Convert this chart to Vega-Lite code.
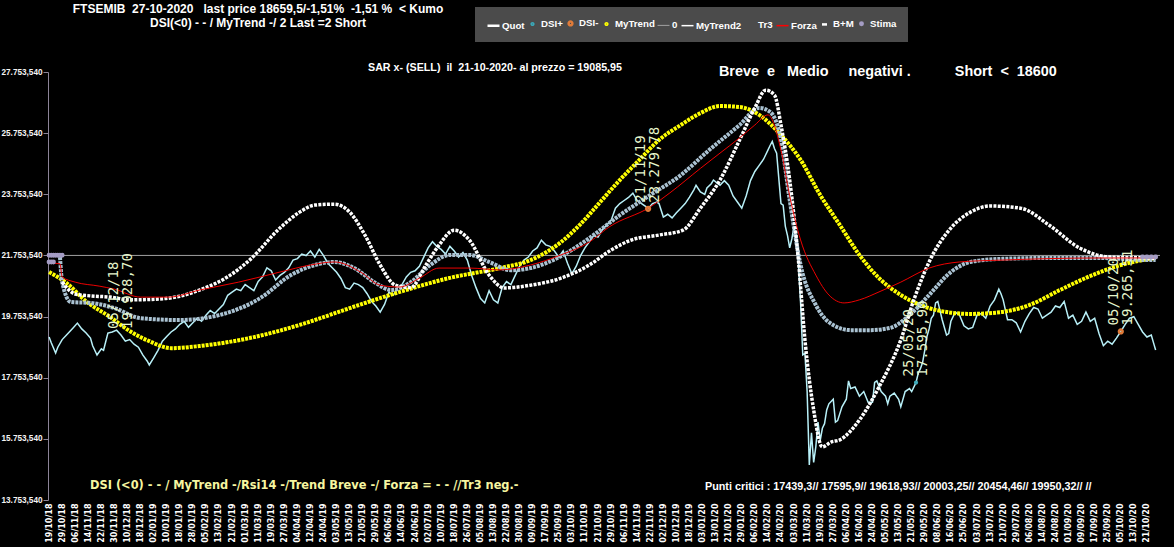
{
  "$schema": "https://vega.github.io/schema/vega-lite/v6.json",
  "width": 1112,
  "height": 428,
  "autosize": "none",
  "padding": {"left": 48, "top": 72, "right": 14, "bottom": 47},
  "background": "#000000",
  "config": {"view": {"stroke": null, "fill": "#000000"}},
  "datasets": {
    "quot": [{"i":0,"v":19085},{"i":1,"v":18900},{"i":3,"v":18560},{"i":4,"v":18750},{"i":6,"v":19000},{"i":8,"v":19150},{"i":11,"v":19380},{"i":13,"v":19540},{"i":15,"v":19350},{"i":17,"v":19215},{"i":19,"v":19050},{"i":20,"v":18800},{"i":22,"v":18495},{"i":24,"v":18700},{"i":25,"v":18650},{"i":27,"v":19215},{"i":29,"v":19250},{"i":31,"v":19310},{"i":33,"v":19150},{"i":35,"v":18950},{"i":37,"v":19000},{"i":39,"v":18850},{"i":41,"v":18750},{"i":43,"v":18500},{"i":45,"v":18300},{"i":46,"v":18170},{"i":48,"v":18400},{"i":50,"v":18650},{"i":52,"v":18950},{"i":54,"v":19100},{"i":56,"v":19250},{"i":58,"v":19350},{"i":60,"v":19500},{"i":62,"v":19600},{"i":64,"v":19400},{"i":66,"v":19550},{"i":68,"v":19700},{"i":70,"v":19600},{"i":72,"v":19800},{"i":74,"v":19950},{"i":76,"v":19850},{"i":78,"v":20000},{"i":80,"v":20150},{"i":82,"v":20450},{"i":84,"v":20550},{"i":86,"v":20650},{"i":88,"v":20600},{"i":90,"v":20800},{"i":92,"v":20700},{"i":94,"v":20600},{"i":96,"v":20900},{"i":98,"v":21050},{"i":100,"v":21350},{"i":102,"v":21250},{"i":104,"v":20950},{"i":106,"v":21100},{"i":108,"v":21200},{"i":110,"v":21350},{"i":112,"v":21600},{"i":114,"v":21650},{"i":116,"v":21800},{"i":118,"v":21750},{"i":120,"v":21900},{"i":122,"v":21700},{"i":124,"v":21950},{"i":126,"v":21750},{"i":128,"v":21500},{"i":130,"v":21350},{"i":132,"v":21200},{"i":134,"v":21000},{"i":136,"v":20700},{"i":138,"v":20650},{"i":140,"v":20850},{"i":142,"v":20800},{"i":144,"v":20700},{"i":146,"v":20500},{"i":148,"v":20250},{"i":150,"v":20100},{"i":152,"v":19900},{"i":154,"v":20150},{"i":156,"v":20550},{"i":158,"v":20450},{"i":160,"v":20700},{"i":162,"v":20800},{"i":164,"v":21050},{"i":166,"v":21200},{"i":168,"v":21250},{"i":170,"v":21400},{"i":172,"v":21700},{"i":174,"v":22000},{"i":176,"v":22200},{"i":178,"v":22050},{"i":180,"v":21950},{"i":182,"v":21800},{"i":184,"v":22050},{"i":186,"v":21900},{"i":188,"v":21700},{"i":190,"v":21850},{"i":192,"v":21600},{"i":194,"v":21100},{"i":196,"v":20700},{"i":198,"v":20350},{"i":200,"v":20200},{"i":202,"v":20600},{"i":204,"v":20300},{"i":206,"v":20200},{"i":208,"v":20700},{"i":210,"v":20900},{"i":212,"v":20800},{"i":214,"v":21100},{"i":216,"v":21400},{"i":218,"v":21600},{"i":220,"v":21700},{"i":222,"v":21900},{"i":224,"v":22000},{"i":226,"v":22250},{"i":228,"v":22100},{"i":230,"v":22050},{"i":232,"v":21900},{"i":234,"v":21700},{"i":236,"v":21900},{"i":238,"v":21500},{"i":240,"v":21150},{"i":242,"v":21400},{"i":244,"v":21750},{"i":246,"v":22000},{"i":248,"v":22200},{"i":250,"v":22400},{"i":252,"v":22350},{"i":254,"v":22600},{"i":256,"v":22750},{"i":258,"v":22900},{"i":260,"v":23300},{"i":262,"v":23450},{"i":264,"v":23550},{"i":266,"v":23650},{"i":268,"v":23790},{"i":270,"v":23550},{"i":272,"v":23450},{"i":274,"v":23350},{"i":275,"v":23280},{"i":277,"v":23450},{"i":279,"v":23500},{"i":280,"v":23450},{"i":282,"v":23010},{"i":284,"v":23100},{"i":286,"v":22980},{"i":288,"v":23150},{"i":290,"v":23300},{"i":292,"v":23450},{"i":294,"v":23660},{"i":296,"v":23900},{"i":297,"v":24050},{"i":299,"v":23830},{"i":301,"v":23750},{"i":302,"v":23960},{"i":304,"v":24100},{"i":305,"v":24220},{"i":307,"v":24100},{"i":308,"v":24050},{"i":310,"v":24200},{"i":312,"v":24050},{"i":314,"v":23700},{"i":316,"v":23500},{"i":318,"v":23300},{"i":320,"v":23700},{"i":322,"v":24200},{"i":324,"v":24500},{"i":326,"v":24700},{"i":328,"v":24900},{"i":330,"v":25200},{"i":331,"v":25350},{"i":332,"v":25480},{"i":333,"v":25250},{"i":334,"v":25100},{"i":336,"v":23450},{"i":337,"v":23400},{"i":338,"v":22700},{"i":339,"v":22400},{"i":340,"v":22000},{"i":341,"v":22300},{"i":342,"v":22700},{"i":343,"v":22150},{"i":344,"v":21500},{"i":345,"v":20200},{"i":346,"v":18500},{"i":347,"v":18550},{"i":348,"v":17300},{"i":349,"v":14900},{"i":350,"v":15950},{"i":351,"v":14980},{"i":352,"v":15500},{"i":353,"v":16300},{"i":354,"v":15700},{"i":355,"v":16100},{"i":356,"v":16250},{"i":357,"v":16700},{"i":358,"v":16900},{"i":360,"v":17050},{"i":361,"v":16300},{"i":362,"v":16350},{"i":364,"v":16800},{"i":366,"v":17050},{"i":367,"v":17650},{"i":368,"v":17400},{"i":370,"v":17450},{"i":372,"v":17150},{"i":374,"v":17300},{"i":376,"v":16950},{"i":378,"v":16950},{"i":379,"v":17600},{"i":380,"v":17650},{"i":382,"v":17300},{"i":384,"v":17150},{"i":385,"v":16900},{"i":386,"v":17150},{"i":388,"v":17250},{"i":390,"v":17050},{"i":391,"v":16800},{"i":393,"v":17300},{"i":395,"v":17400},{"i":396,"v":17300},{"i":398,"v":17596},{"i":399,"v":17900},{"i":400,"v":18050},{"i":401,"v":18250},{"i":402,"v":18650},{"i":403,"v":19100},{"i":404,"v":19350},{"i":405,"v":19700},{"i":406,"v":19800},{"i":407,"v":20200},{"i":408,"v":20250},{"i":410,"v":19650},{"i":412,"v":19150},{"i":413,"v":19200},{"i":414,"v":19600},{"i":416,"v":19900},{"i":418,"v":19800},{"i":420,"v":19450},{"i":422,"v":19350},{"i":424,"v":19400},{"i":426,"v":19800},{"i":428,"v":19850},{"i":430,"v":19700},{"i":432,"v":20100},{"i":434,"v":20300},{"i":436,"v":20650},{"i":437,"v":20500},{"i":438,"v":20300},{"i":440,"v":19650},{"i":442,"v":19650},{"i":444,"v":19550},{"i":446,"v":19250},{"i":448,"v":19600},{"i":450,"v":19850},{"i":452,"v":20050},{"i":454,"v":20000},{"i":456,"v":19700},{"i":458,"v":19800},{"i":460,"v":19900},{"i":462,"v":20100},{"i":464,"v":20050},{"i":466,"v":20250},{"i":468,"v":19700},{"i":470,"v":19800},{"i":472,"v":19500},{"i":474,"v":19600},{"i":476,"v":19900},{"i":478,"v":19600},{"i":480,"v":19700},{"i":482,"v":19200},{"i":484,"v":18800},{"i":486,"v":18950},{"i":488,"v":18850},{"i":490,"v":19050},{"i":492,"v":19266},{"i":494,"v":19500},{"i":496,"v":19700},{"i":498,"v":19750},{"i":500,"v":19500},{"i":502,"v":19250},{"i":504,"v":19085},{"i":506,"v":19150},{"i":507,"v":18900},{"i":508,"v":18660}],
    "mytrend": [{"i":0,"v":21210},{"i":8,"v":20850},{"i":17,"v":20250},{"i":28,"v":19740},{"i":37,"v":19280},{"i":46,"v":18950},{"i":56,"v":18720},{"i":69,"v":18790},{"i":92,"v":19050},{"i":115,"v":19480},{"i":138,"v":20030},{"i":161,"v":20560},{"i":184,"v":21020},{"i":207,"v":21340},{"i":221,"v":21600},{"i":235,"v":22190},{"i":244,"v":22780},{"i":253,"v":23500},{"i":262,"v":24220},{"i":271,"v":24880},{"i":280,"v":25530},{"i":290,"v":26020},{"i":299,"v":26410},{"i":308,"v":26640},{"i":317,"v":26610},{"i":326,"v":26350},{"i":336,"v":25690},{"i":345,"v":24880},{"i":354,"v":23730},{"i":363,"v":22750},{"i":372,"v":21770},{"i":381,"v":21010},{"i":391,"v":20460},{"i":400,"v":20130},{"i":409,"v":19940},{"i":423,"v":19840},{"i":437,"v":19900},{"i":450,"v":20130},{"i":464,"v":20620},{"i":478,"v":21080},{"i":492,"v":21440},{"i":508,"v":21670}],
    "mytrend2": [{"i":6,"v":20880},{"i":12,"v":20490},{"i":19,"v":20430},{"i":28,"v":20390},{"i":37,"v":20300},{"i":51,"v":20330},{"i":60,"v":20420},{"i":69,"v":20620},{"i":83,"v":21100},{"i":92,"v":21600},{"i":106,"v":22650},{"i":115,"v":23170},{"i":122,"v":23400},{"i":131,"v":23430},{"i":138,"v":23170},{"i":145,"v":22420},{"i":152,"v":21440},{"i":159,"v":20780},{"i":166,"v":20700},{"i":173,"v":21440},{"i":179,"v":22090},{"i":186,"v":22580},{"i":193,"v":22250},{"i":202,"v":21110},{"i":209,"v":20690},{"i":221,"v":20780},{"i":235,"v":21010},{"i":248,"v":21440},{"i":258,"v":21930},{"i":267,"v":22250},{"i":280,"v":22420},{"i":291,"v":22580},{"i":299,"v":23300},{"i":308,"v":24220},{"i":317,"v":25530},{"i":324,"v":26580},{"i":329,"v":27160},{"i":333,"v":27000},{"i":336,"v":26020},{"i":340,"v":24220},{"i":344,"v":21600},{"i":347,"v":18990},{"i":351,"v":16700},{"i":355,"v":15490},{"i":359,"v":15650},{"i":363,"v":15720},{"i":372,"v":16370},{"i":381,"v":17450},{"i":391,"v":18990},{"i":397,"v":20300},{"i":404,"v":21540},{"i":414,"v":22650},{"i":423,"v":23170},{"i":432,"v":23370},{"i":446,"v":23300},{"i":459,"v":22750},{"i":473,"v":22000},{"i":487,"v":21700},{"i":505,"v":21670},{"i":508,"v":21660}],
    "bm": [{"i":5,"v":21700},{"i":6,"v":20880},{"i":10,"v":20230},{"i":19,"v":20200},{"i":23,"v":20160},{"i":30,"v":20030},{"i":42,"v":19700},{"i":60,"v":19640},{"i":78,"v":19800},{"i":97,"v":20360},{"i":111,"v":21110},{"i":122,"v":21440},{"i":131,"v":21540},{"i":140,"v":21340},{"i":150,"v":20850},{"i":157,"v":20620},{"i":166,"v":20880},{"i":175,"v":21440},{"i":184,"v":21770},{"i":193,"v":21770},{"i":202,"v":21540},{"i":212,"v":21270},{"i":221,"v":21340},{"i":235,"v":21730},{"i":248,"v":22320},{"i":262,"v":23070},{"i":276,"v":23730},{"i":290,"v":24380},{"i":303,"v":25200},{"i":317,"v":26020},{"i":326,"v":26580},{"i":331,"v":26450},{"i":336,"v":25530},{"i":340,"v":23570},{"i":345,"v":21440},{"i":352,"v":20130},{"i":358,"v":19570},{"i":368,"v":19310},{"i":377,"v":19310},{"i":386,"v":19380},{"i":395,"v":19800},{"i":404,"v":20460},{"i":414,"v":21210},{"i":423,"v":21540},{"i":437,"v":21640},{"i":459,"v":21670},{"i":482,"v":21670},{"i":505,"v":21600},{"i":508,"v":21600}],
    "forza": [{"i":0,"v":21510},{"i":5,"v":21480},{"i":6,"v":21050},{"i":12,"v":20880},{"i":23,"v":20750},{"i":30,"v":20650},{"i":42,"v":20390},{"i":55,"v":20390},{"i":69,"v":20620},{"i":87,"v":20880},{"i":106,"v":21210},{"i":120,"v":21440},{"i":131,"v":21540},{"i":143,"v":21210},{"i":152,"v":20780},{"i":161,"v":20720},{"i":170,"v":21010},{"i":179,"v":21340},{"i":193,"v":21340},{"i":207,"v":21280},{"i":221,"v":21440},{"i":235,"v":21770},{"i":248,"v":22190},{"i":257,"v":22680},{"i":276,"v":23340},{"i":285,"v":23800},{"i":299,"v":24600},{"i":308,"v":25100},{"i":317,"v":25600},{"i":324,"v":26020},{"i":330,"v":26350},{"i":336,"v":25200},{"i":340,"v":23700},{"i":345,"v":22260},{"i":352,"v":21110},{"i":358,"v":20460},{"i":365,"v":20200},{"i":372,"v":20300},{"i":381,"v":20560},{"i":391,"v":20880},{"i":404,"v":21340},{"i":418,"v":21540},{"i":437,"v":21600},{"i":482,"v":21670},{"i":508,"v":21670}],
    "marks": [{"i":275,"v":23280,"s":"DSI-"},{"i":492,"v":19266,"s":"DSI-"},{"i":398,"v":17596,"s":"DSI+"},{"i":0,"v":21760,"s":"Stima"},{"i":1,"v":21760,"s":"Stima"},{"i":2,"v":21760,"s":"Stima"},{"i":3,"v":21760,"s":"Stima"},{"i":4,"v":21760,"s":"Stima"},{"i":5,"v":21760,"s":"Stima"},{"i":6,"v":21760,"s":"Stima"},{"i":0,"v":21540,"s":"Stima"},{"i":1,"v":21540,"s":"Stima"},{"i":2,"v":21540,"s":"Stima"},{"i":502,"v":21700,"s":"Stima"},{"i":504,"v":21700,"s":"Stima"},{"i":506,"v":21700,"s":"Stima"},{"i":508,"v":21700,"s":"Stima"}],
    "notes": [{"i":33,"v":19150,"d":"05/12/18","p":"19.928,70"},{"i":275,"v":23280,"d":"21/11/19","p":"23.279,78"},{"i":398,"v":17596,"d":"25/05/20","p":"17.595,90"},{"i":492,"v":19266,"d":"05/10/20","p":"19.265,51"}]
  },
  "layer": [
    {
      "data": {"values": [{"v": 21753.54}]},
      "mark": {"type": "rule", "color": "#a0a0a0", "strokeWidth": 1},
      "encoding": {"y": {"field": "v", "type": "quantitative", "title": null}}
    },
    {
      "data": {"name": "quot"},
      "mark": {"type": "line", "color": "#b8f0f8", "strokeWidth": 1.5},
      "encoding": {
        "x": {"field": "i", "type": "quantitative", "title": null,
          "scale": {"domain": [-0.5, 510], "nice": false, "zero": false},
          "axis": {
            "values": [0,6,12,18,24,30,36,42,48,54,60,66,72,78,84,90,96,102,108,114,120,126,132,138,144,150,156,162,168,174,180,186,192,198,204,210,216,222,228,234,240,246,252,258,264,270,276,282,288,294,300,306,312,318,324,330,336,342,348,354,360,366,372,378,384,390,396,402,408,414,420,426,432,438,444,450,456,462,468,474,480,486,492,498,504],
            "tickCount": 200,
            "labelExpr": "['19/10/18','29/10/18','06/11/18','14/11/18','22/11/18','30/11/18','10/12/18','18/12/18','02/01/19','10/01/19','18/01/19','28/01/19','05/02/19','13/02/19','21/02/19','01/03/19','11/03/19','19/03/19','27/03/19','04/04/19','12/04/19','24/04/19','03/05/19','13/05/19','21/05/19','29/05/19','06/06/19','14/06/19','24/06/19','02/07/19','10/07/19','18/07/19','26/07/19','05/08/19','13/08/19','22/08/19','30/08/19','09/09/19','17/09/19','25/09/19','03/10/19','11/10/19','21/10/19','29/10/19','06/11/19','14/11/19','22/11/19','02/12/19','10/12/19','18/12/19','03/01/20','13/01/20','21/01/20','29/01/20','06/02/20','14/02/20','24/02/20','03/03/20','11/03/20','19/03/20','27/03/20','06/04/20','16/04/20','24/04/20','05/05/20','13/05/20','21/05/20','29/05/20','08/06/20','16/06/20','25/06/20','03/07/20','13/07/20','21/07/20','29/07/20','06/08/20','14/08/20','24/08/20','01/09/20','09/09/20','17/09/20','25/09/20','05/10/20','13/10/20','21/10/20'][round(datum.value/6)]",
            "labelAngle": -90, "labelAlign": "right", "labelBaseline": "middle",
            "labelFont": "DejaVu Sans", "labelFontWeight": "bold", "labelFontSize": 8, "labelColor": "#ffffff",
            "ticks": false, "tickSize": 0, "domain": false, "grid": false, "labelPadding": 3,
            "labelOverlap": false, "labelFlush": false, "labelBound": false, "title": null
          }
        },
        "y": {"field": "v", "type": "quantitative", "title": null,
          "scale": {"domain": [13753.54, 27753.54], "nice": false, "zero": false},
          "axis": {
            "values": [13753.54, 15753.54, 17753.54, 19753.54, 21753.54, 23753.54, 25753.54, 27753.54],
            "tickCount": 20,
            "labelExpr": "replace(replace(replace(format(datum.value, ',.3f'), ',', ';'), '.', ','), ';', '.')",
            "labelFont": "Liberation Sans", "labelFontWeight": "bold", "labelFontSize": 8.2, "labelColor": "#f4f4f4",
            "tickColor": "#8c8498", "tickSize": 5, "domainColor": "#8c8498", "labelPadding": 1,
            "grid": false, "title": null, "labelFlush": false, "labelOverlap": false
          }
        }
      }
    },
    {
      "data": {"name": "mytrend"},
      "mark": {"type": "line", "color": "#ffff00", "strokeWidth": 4, "strokeDash": [3, 1], "interpolate": "monotone"},
      "encoding": {"x": {"field": "i", "type": "quantitative", "title": null}, "y": {"field": "v", "type": "quantitative", "title": null}}
    },
    {
      "data": {"name": "bm"},
      "mark": {"type": "line", "color": "#aac2d2", "strokeWidth": 4, "strokeDash": [3, 1], "interpolate": "monotone"},
      "encoding": {"x": {"field": "i", "type": "quantitative", "title": null}, "y": {"field": "v", "type": "quantitative", "title": null}}
    },
    {
      "data": {"name": "mytrend2"},
      "mark": {"type": "line", "color": "#ffffff", "strokeWidth": 3.5, "strokeDash": [3, 1.3], "interpolate": "monotone"},
      "encoding": {"x": {"field": "i", "type": "quantitative", "title": null}, "y": {"field": "v", "type": "quantitative", "title": null}}
    },
    {
      "data": {"name": "forza"},
      "mark": {"type": "line", "color": "#ee0000", "strokeWidth": 1, "interpolate": "monotone"},
      "encoding": {"x": {"field": "i", "type": "quantitative", "title": null}, "y": {"field": "v", "type": "quantitative", "title": null}}
    },
    {
      "data": {"name": "marks"},
      "mark": {"type": "point", "filled": false, "opacity": 1},
      "encoding": {
        "x": {"field": "i", "type": "quantitative", "title": null},
        "y": {"field": "v", "type": "quantitative", "title": null},
        "color": {"field": "s", "type": "nominal",
          "scale": {
            "domain": ["Quot", "DSI+", "DSI-", "MyTrend", "0", "MyTrend2", "Tr3", "Forza", "B+M", "Stima"],
            "range": ["#ffffff", "#3aa8b8", "#e07b39", "#ffff00", "#a0a0a0", "#ffffff", "#4b4b4b", "#ff0000", "#ffffff", "#a49cc4"]
          },
          "legend": {
            "orient": "none", "legendX": 427, "legendY": -65, "direction": "horizontal", "columns": 10,
            "title": null, "fillColor": "#4b4b4b", "padding": 11,
            "labelColor": "#ffffff", "labelFont": "Liberation Sans", "labelFontWeight": "bold", "labelFontSize": 9.7,
            "labelOffset": 1, "columnPadding": 0, "symbolOffset": 0
          }
        },
        "shape": {"field": "s", "type": "nominal",
          "scale": {
            "domain": ["Quot", "DSI+", "DSI-", "MyTrend", "0", "MyTrend2", "Tr3", "Forza", "B+M", "Stima"],
            "range": ["stroke", "circle", "circle", "circle", "stroke", "stroke", "circle", "stroke", "stroke", "circle"]
          }
        },
        "size": {"field": "s", "type": "nominal",
          "scale": {
            "type": "ordinal",
            "domain": ["Quot", "DSI+", "DSI-", "MyTrend", "0", "MyTrend2", "Tr3", "Forza", "B+M", "Stima"],
            "range": [144, 3, 14, 3, 144, 144, 0, 144, 25, 6]
          }
        },
        "strokeWidth": {"field": "s", "type": "nominal",
          "scale": {
            "type": "ordinal",
            "domain": ["Quot", "DSI+", "DSI-", "MyTrend", "0", "MyTrend2", "Tr3", "Forza", "B+M", "Stima"],
            "range": [2.5, 2.5, 2.5, 2.5, 1, 1.5, 0, 1.5, 2.5, 2.5]
          }
        }
      }
    },
    {
      "data": {"name": "notes"},
      "mark": {"type": "text", "angle": 270, "align": "left", "baseline": "bottom", "dx": 6, "font": "DejaVu Sans Mono", "fontSize": 14, "color": "#e6f6cc"},
      "encoding": {"x": {"field": "i", "type": "quantitative", "title": null}, "y": {"field": "v", "type": "quantitative", "title": null}, "text": {"field": "d"}}
    },
    {
      "data": {"name": "notes"},
      "mark": {"type": "text", "angle": 270, "align": "left", "baseline": "top", "dx": 6, "font": "DejaVu Sans Mono", "fontSize": 14, "color": "#e6f6cc"},
      "encoding": {"x": {"field": "i", "type": "quantitative", "title": null}, "y": {"field": "v", "type": "quantitative", "title": null}, "text": {"field": "p"}}
    },
    {
      "data": {"values": [{"t": "FTSEMIB\u00a0\u00a027-10-2020\u00a0\u00a0\u00a0last price 18659,5/-1,51%\u00a0\u00a0-1,51 %\u00a0\u00a0< Kumo"}]},
      "mark": {"type": "text", "font": "Liberation Sans", "fontWeight": "bold", "fontSize": 12, "color": "#ffffff", "align": "center", "baseline": "alphabetic"},
      "encoding": {"x": {"datum": 95.9, "type": "quantitative"}, "y": {"datum": 29694, "type": "quantitative"}, "text": {"field": "t"}}
    },
    {
      "data": {"values": [{"t": "DSI(<0) - - / MyTrend -/ 2 Last =2 Short"}]},
      "mark": {"type": "text", "font": "Liberation Sans", "fontWeight": "bold", "fontSize": 12, "color": "#ffffff", "align": "center", "baseline": "alphabetic"},
      "encoding": {"x": {"datum": 95.9, "type": "quantitative"}, "y": {"datum": 29235, "type": "quantitative"}, "text": {"field": "t"}}
    },
    {
      "data": {"values": [{"t": "SAR x- (SELL)\u00a0\u00a0il\u00a0\u00a021-10-2020- al prezzo = 19085,95"}]},
      "mark": {"type": "text", "font": "Liberation Sans", "fontWeight": "bold", "fontSize": 10.7, "color": "#ffffff", "align": "center", "baseline": "middle"},
      "encoding": {"x": {"datum": 204.7, "type": "quantitative"}, "y": {"datum": 27884, "type": "quantitative"}, "text": {"field": "t"}}
    },
    {
      "data": {"values": [{"t": "Breve\u00a0\u00a0e\u00a0\u00a0\u00a0Medio\u00a0\u00a0\u00a0\u00a0\u00a0negativi\u00a0.\u00a0\u00a0\u00a0\u00a0\u00a0\u00a0\u00a0\u00a0\u00a0\u00a0\u00a0Short\u00a0\u00a0<\u00a0\u00a018600"}]},
      "mark": {"type": "text", "font": "Liberation Sans", "fontWeight": "bold", "fontSize": 14.4, "color": "#ffffff", "align": "left", "baseline": "middle"},
      "encoding": {"x": {"datum": 307.5, "type": "quantitative"}, "y": {"datum": 27753.54, "type": "quantitative"}, "text": {"field": "t"}}
    },
    {
      "data": {"values": [{"t": "DSI (<0) - - / MyTrend -/Rsi14 -/Trend Breve -/ Forza = - - //Tr3 neg.-"}]},
      "mark": {"type": "text", "font": "DejaVu Sans", "fontWeight": "bold", "fontSize": 11.4, "color": "#f6f6a0", "align": "left", "baseline": "middle"},
      "encoding": {"x": {"datum": 18.8, "type": "quantitative"}, "y": {"datum": 14210, "type": "quantitative"}, "text": {"field": "t"}}
    },
    {
      "data": {"values": [{"t": "Punti critici : 17439,3// 17595,9// 19618,93// 20003,25// 20454,46// 19950,32// //"}]},
      "mark": {"type": "text", "font": "Liberation Sans", "fontWeight": "bold", "fontSize": 10.8, "color": "#ffffff", "align": "left", "baseline": "middle"},
      "encoding": {"x": {"datum": 301.1, "type": "quantitative"}, "y": {"datum": 14177, "type": "quantitative"}, "text": {"field": "t"}}
    }
  ]
}
